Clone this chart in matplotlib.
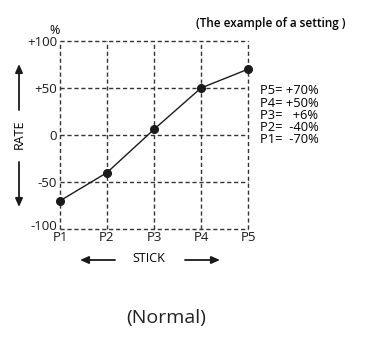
import matplotlib
matplotlib.use("Agg")
import matplotlib.pyplot as plt
import matplotlib.transforms as mtransforms
from matplotlib.patches import FancyArrowPatch

points = ["P1", "P2", "P3", "P4", "P5"]
rates = [-70, -40, 6, 50, 70]
y_ticks = [-100, -50, 0, 50, 100]
y_labels = ["-100", "-50", "0", "+50", "+100"]
legend_lines = ["P5= +70%", "P4= +50%", "P3=   +6%", "P2=  -40%", "P1=  -70%"]

plt.rcParams['font.family'] = ['Open Sans', 'DejaVu Sans']
W, H = 366, 338
fig = plt.figure(figsize=(W/100, H/100), dpi=100)
ax = fig.add_axes([60/W, 1-229/H, 188/W, 188/H])
x = list(range(len(points)))
ax.set_xlim(0, len(points) - 1)
ax.set_ylim(-100, 100)
for xi in x:
    ax.axvline(xi, color="#333333", lw=1.0, ls=(0, (3, 2)), zorder=1, clip_on=False)
for yi in y_ticks:
    ax.axhline(yi, color="#333333", lw=1.0, ls=(0, (3, 2)), zorder=1, clip_on=False)
ax.plot(x, rates, color="#1a1a1a", lw=1.0, marker="o", ms=5.5, zorder=3, clip_on=False)
for s in ax.spines.values():
    s.set_visible(False)
ax.set_xticks(x)
ax.set_xticklabels(points, fontsize=9.5)
ax.set_yticks(y_ticks)
ax.set_yticklabels(y_labels, fontsize=9.5)
ax.tick_params(axis="x", length=0, pad=1.5, colors="#1a1a1a")
ax.tick_params(axis="y", length=0, pad=2, colors="#1a1a1a")
# nudge the -100 label up a little as in the reference
lbl = ax.get_yticklabels()[0]
lbl.set_transform(lbl.get_transform() + mtransforms.ScaledTranslation(0, 4/100, fig.dpi_scale_trans))

fig.text(55/W, 1-31/H, "%", fontsize=9, ha="center", va="center")
fig.text(346/W, 1-23/H, "(The example of a setting )", fontsize=8.5, ha="right", va="center", fontweight="semibold")
for i, t in enumerate(legend_lines):
    fig.text(260/W, 1-(91 + i*12.2)/H, t, fontsize=9.3, ha="left", va="center")

astyle = "-|>,head_length=5,head_width=2.2"
fig.text(19/W, 1-134/H, "RATE", fontsize=9, rotation=90, ha="center", va="center")
fig.patches.append(FancyArrowPatch((19/W, 1-110/H), (19/W, 1-64/H), transform=fig.transFigure,
                                   arrowstyle=astyle, color="#1a1a1a", lw=1.3, shrinkA=0, shrinkB=0))
fig.patches.append(FancyArrowPatch((19/W, 1-162/H), (19/W, 1-207/H), transform=fig.transFigure,
                                   arrowstyle=astyle, color="#1a1a1a", lw=1.3, shrinkA=0, shrinkB=0))

fig.text(149/W, 1-258/H, "STICK", fontsize=9, ha="center", va="center")
fig.patches.append(FancyArrowPatch((115/W, 1-260/H), (80/W, 1-260/H), transform=fig.transFigure,
                                   arrowstyle=astyle, color="#1a1a1a", lw=1.3, shrinkA=0, shrinkB=0))
fig.patches.append(FancyArrowPatch((185/W, 1-260/H), (220/W, 1-260/H), transform=fig.transFigure,
                                   arrowstyle=astyle, color="#1a1a1a", lw=1.3, shrinkA=0, shrinkB=0))

fig.text(166/W, 1-318/H, "(Normal)", fontsize=14, ha="center", va="center", color="#222222")

fig.savefig("out.png", dpi=100)
